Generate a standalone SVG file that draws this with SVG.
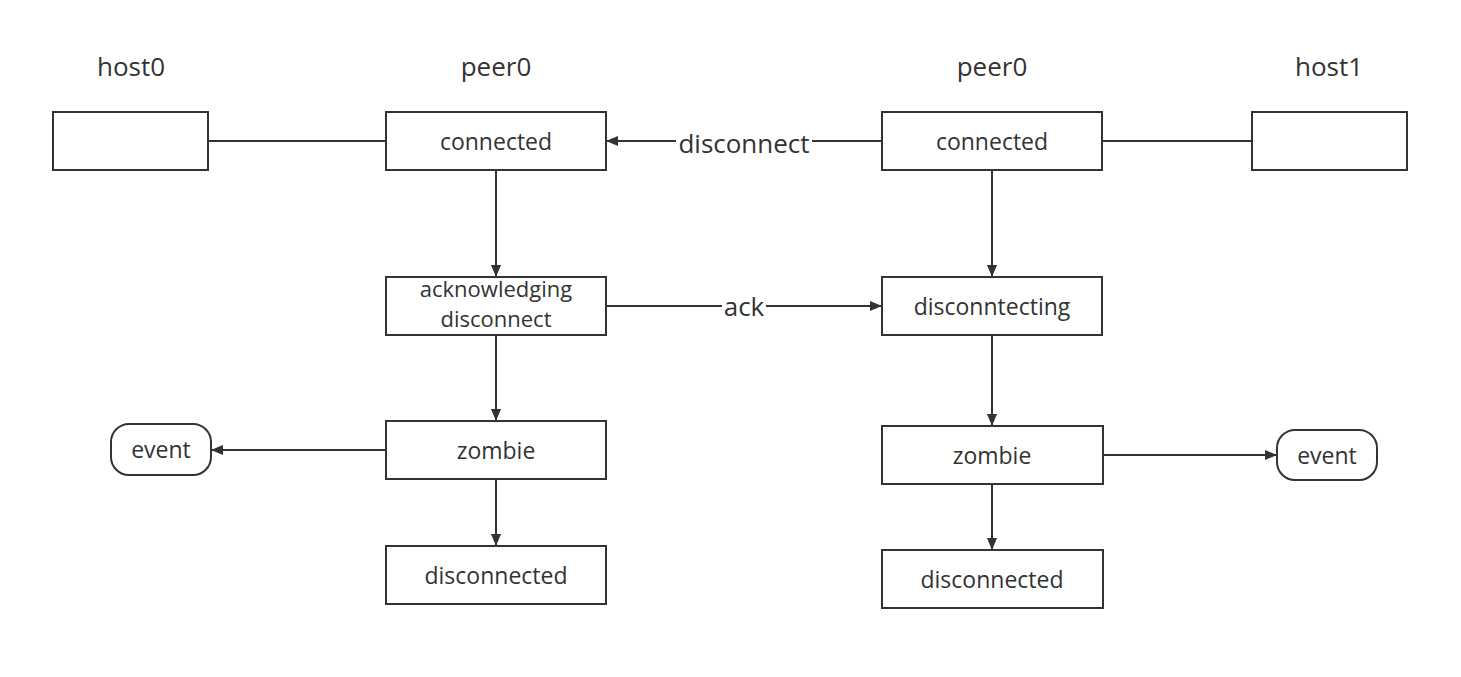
<svg xmlns="http://www.w3.org/2000/svg" width="1461" height="677" viewBox="0 0 1461 677">
<style>
.box{fill:#fff;stroke:#333;stroke-width:2}
.t{font-family:"Open Sans","Noto Sans",sans-serif;font-size:23px;fill:#333;text-anchor:middle}
.h{font-family:"Open Sans","Noto Sans",sans-serif;font-size:26px;fill:#333;text-anchor:middle}
.ln{fill:none;stroke:#333;stroke-width:2}
</style>
<defs>
<marker id="ar" viewBox="0 0 12 10" refX="12" refY="5" markerWidth="12" markerHeight="10" markerUnits="userSpaceOnUse" orient="auto">
<path d="M0,0 L12,5 L0,10 Z" fill="#333"/>
</marker>
</defs>
<rect width="1461" height="677" fill="#fff"/>
<g id="titles">
<text class="h" x="131" y="76">host0</text>
<text class="h" x="496" y="76">peer0</text>
<text class="h" x="992" y="76">peer0</text>
<text class="h" x="1329" y="76">host1</text>
</g>
<g id="connectors">
<path class="ln" d="M208,141 H386"/>
<path class="ln" d="M1102,141 H1252"/>
<path class="ln" d="M882,141 H606" marker-end="url(#ar)"/>
<path class="ln" d="M606,306 H882" marker-end="url(#ar)"/>
<path class="ln" d="M496,170 V277" marker-end="url(#ar)"/>
<path class="ln" d="M496,335 V421" marker-end="url(#ar)"/>
<path class="ln" d="M496,479 V546" marker-end="url(#ar)"/>
<path class="ln" d="M386,450 H211" marker-end="url(#ar)"/>
<path class="ln" d="M992,170 V277" marker-end="url(#ar)"/>
<path class="ln" d="M992,335 V426" marker-end="url(#ar)"/>
<path class="ln" d="M992,484 V550" marker-end="url(#ar)"/>
<path class="ln" d="M1103,455 H1277" marker-end="url(#ar)"/>
<rect x="676" y="128" width="136" height="28" fill="#fff"/>
<text class="h" x="744" y="153">disconnect</text>
<rect x="722" y="293" width="44" height="28" fill="#fff"/>
<text class="h" x="744" y="316">ack</text>
</g>
<g id="host0"><rect class="box" x="53" y="112" width="155" height="58"/></g>
<g id="host1"><rect class="box" x="1252" y="112" width="155" height="58"/></g>
<g id="l-connected"><rect class="box" x="386" y="112" width="220" height="58"/><text class="t" x="496" y="150">connected</text></g>
<g id="l-ack"><rect class="box" x="386" y="277" width="220" height="58"/><text class="t" x="496" y="297" style="font-size:22px">acknowledging<tspan x="496" dy="30">disconnect</tspan></text></g>
<g id="l-zombie"><rect class="box" x="386" y="421" width="220" height="58"/><text class="t" x="496" y="459">zombie</text></g>
<g id="l-disconnected"><rect class="box" x="386" y="546" width="220" height="58"/><text class="t" x="496" y="584">disconnected</text></g>
<g id="l-event"><rect class="box" x="111" y="424" width="100" height="51" rx="18"/><text class="t" x="161" y="458">event</text></g>
<g id="r-connected"><rect class="box" x="882" y="112" width="220" height="58"/><text class="t" x="992" y="150">connected</text></g>
<g id="r-disconnecting"><rect class="box" x="882" y="277" width="220" height="58"/><text class="t" x="992" y="315">disconntecting</text></g>
<g id="r-zombie"><rect class="box" x="882" y="426" width="221" height="58"/><text class="t" x="992" y="464">zombie</text></g>
<g id="r-disconnected"><rect class="box" x="882" y="550" width="221" height="58"/><text class="t" x="992" y="588">disconnected</text></g>
<g id="r-event"><rect class="box" x="1277" y="430" width="100" height="50" rx="18"/><text class="t" x="1327" y="464">event</text></g>
</svg>
